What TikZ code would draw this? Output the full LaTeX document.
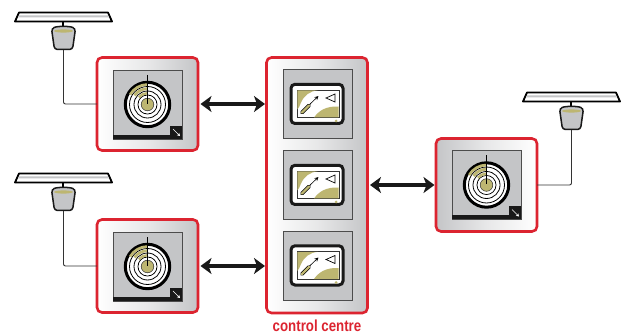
\documentclass[tikz,border=0pt]{standalone}
\usepackage{fontspec}
\setmainfont{Liberation Sans}
\usetikzlibrary{arrows.meta}
\definecolor{rd}{HTML}{DC2430}
\definecolor{olv}{HTML}{BDB671}
\definecolor{gry}{HTML}{C4C5C7}
\tikzset{
  unitbox/.style={draw=rd,line width=2.6pt,rounded corners=5pt,inner sep=0pt,outer sep=0pt,anchor=north west},
  biarrow/.style={draw=black!90,line width=3.3pt,{Stealth[length=11pt,width=16pt,inset=3pt]}-{Stealth[length=11pt,width=16pt,inset=3pt]}},
  feed/.style={draw=black!80,line width=.9pt,rounded corners=2pt},
  panelbox/.style={draw=black!70,fill=gry,line width=.7pt},
  ring/.style={draw=black,line width=.8pt},
}
\newcommand{\radarunit}[2]{%
\begin{scope}[shift={(#1,#2)}]
  \draw[panelbox] (0,0) rectangle (69,69);
  \fill[black!90] (0,65) rectangle (69,69);
  \fill[black!90] (57,56) rectangle (69,69);
  \draw[white,line width=.7pt,-{Stealth[length=3pt,width=3.5pt]}] (60,59) -- (67,66);
  \draw[draw=black,fill=white,line width=3pt] (34.5,34.5) circle (22.2);
  \foreach \r in {18,13.5,9.5}{\draw[ring] (34.5,34.5) circle (\r);}
  \draw[olv,line width=2.6pt] (34.5,14.5) arc[start angle=-90,end angle=-150,radius=20];
  \draw[olv,line width=2.8pt] (34.5,18.7) arc[start angle=-90,end angle=-145,radius=15.8];
  \draw[olv,line width=2.4pt] (34.5,23.2) arc[start angle=-90,end angle=-140,radius=11.3];
  \fill[white] (34.5,34.5) circle (8.8);
  \draw[fill=olv,draw=black!80,line width=.5pt] (34.5,34.5) circle (6.3);
  \draw[black,line width=.8pt] (34.5,5) -- (34.5,34);
\end{scope}}
\newcommand{\screenunit}[2]{%
\begin{scope}[shift={(#1,#2)}]
  \draw[panelbox] (0,0) rectangle (69,69);
  \draw[draw=black!90,fill=white,line width=3pt,rounded corners=4pt] (8,14.8) rectangle (60,54);
  \draw[black!80,fill=white,line width=.6pt] (14,20.5) rectangle (56,48.3);
  \fill[olv] (14.3,20.8) -- (35,20.8) .. controls (27,21.5) and (21,26) .. (18,33) .. controls (17,36) and (15.5,39) .. (14.3,40) -- cycle;
  \fill[olv] (55.7,48) -- (31,48) .. controls (36,41) and (43,36.5) .. (55.7,37) -- cycle;
  \draw[black,line width=.6pt,-{Stealth[length=4pt,width=4pt,open]}] (25,36.5) -- (35.5,26.5);
  \draw[black,line width=3.6pt,line cap=round] (19,43) -- (26,36);
  \draw[olv,line width=2.3pt,line cap=round] (19,43) -- (26,36);
  \draw[black,fill=white,line width=.7pt] (43,28.5) -- (52,24.5) -- (52,32.5) -- cycle;
  \fill[olv] (53,51.5) circle (1.5);
\end{scope}}
\newcommand{\antenna}[3]{%
\begin{scope}[shift={(#1,#2)}]
  \draw[black,line width=1.2pt] (63,22) -- (63,28);
  \draw[draw=black,fill=white,line width=1.8pt,line join=round] (19,12.5) -- (108,12.5) -- (112,21.5) -- (15,21.5) -- cycle;
  \fill[gry] (19,15.5) -- (108,15.5) -- (109,17.5) -- (18,17.5) -- cycle;
  \draw[black!90,line width=1.5pt,fill=gry,rounded corners=3pt] (51.5,28.5) .. controls (58,26) and (69,26) .. (75.5,28.5) -- (72.5,49.5) -- (54.5,49.5) -- cycle;
  \fill[olv] (63.5,31) ellipse (9.5 and 1.6);
  \node[inner sep=0pt,minimum size=0pt] (#3) at (63.5,50) {};
\end{scope}}
\begin{document}
\begin{tikzpicture}[x=1pt,y=-1pt]
\useasboundingbox[fill=white] (0,0) rectangle (627,334);
\node[unitbox,left color=white,right color=gry,middle color=white!60!gry,minimum width=101pt,minimum height=93pt] (uA) at (97,57.5) {};
\node[unitbox,left color=white,right color=gry,middle color=white!60!gry,minimum width=101pt,minimum height=93pt] (uB) at (97,219.5) {};
\node[unitbox,left color=white,right color=gry,middle color=white!60!gry,minimum width=101pt,minimum height=255.5pt] (ctrl) at (266.5,57.5) {};
\node[unitbox,left color=gry,right color=white,middle color=white!60!gry,minimum width=101pt,minimum height=93pt] (uC) at (436,138.5) {};
\radarunit{113}{70}
\radarunit{113}{232}
\radarunit{452}{150.5}
\screenunit{283}{69.5}
\screenunit{283}{150.5}
\screenunit{283}{231}
\antenna{0}{0}{aA}
\antenna{0}{161}{aB}
\antenna{508}{80}{aC}
\draw[feed] (aA) |- (uA.west);
\draw[feed] (aB) |- (uB.west);
\draw[feed] (aC) |- (uC.east);
\draw[biarrow] ([xshift=2.5pt]uA.east) -- ([xshift=-1.5pt]uA.east -| ctrl.west);
\draw[biarrow] ([xshift=2.5pt]uB.east) -- ([xshift=-1.5pt]uB.east -| ctrl.west);
\draw[biarrow] ([xshift=2.5pt]uC.west -| ctrl.east) -- ([xshift=-1.5pt]uC.west);
\node[text=rd,inner sep=0pt,font=\bfseries\fontsize{16}{16}\selectfont,xscale=.83] (lbl) at (317,326) {control centre};
\end{tikzpicture}
\end{document}
